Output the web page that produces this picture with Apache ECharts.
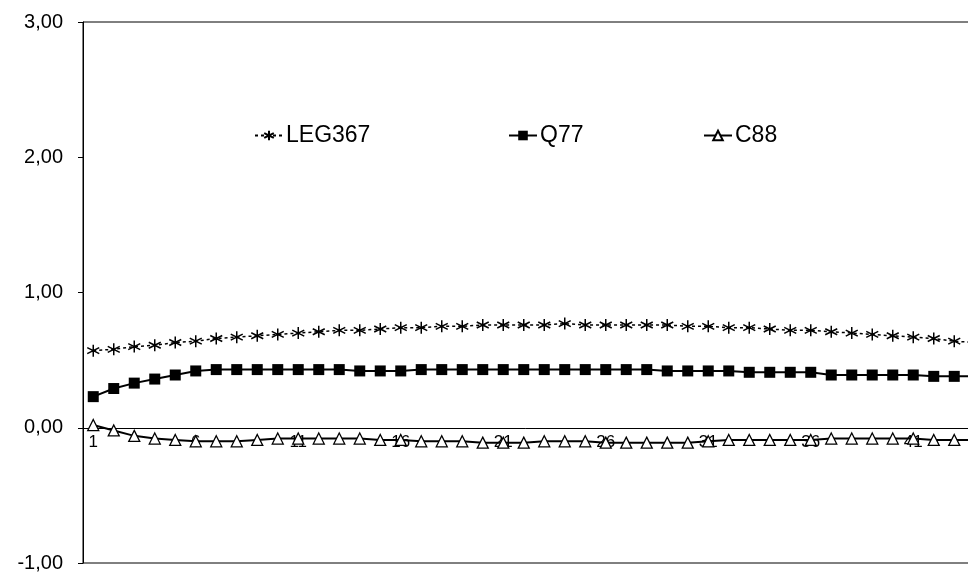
<!DOCTYPE html>
<html>
<head>
<meta charset="utf-8">
<script src="https://cdn.jsdelivr.net/npm/echarts@6/dist/echarts.min.js"></script>
<style>html,body{margin:0;padding:0;background:#fff}#c{width:968px;height:577px}</style>
</head>
<body>
<div id="c"></div>
<script>
const categories = Array.from({length: 44}, (_, i) => String(i + 1));
const seriesNames = ['LEG367', 'Q77', 'C88'];
const leg367 = [0.57,0.58,0.60,0.61,0.63,0.64,0.66,0.67,0.68,0.69,0.70,0.71,0.72,0.72,0.73,0.74,0.74,0.75,0.75,0.76,0.76,0.76,0.76,0.77,0.76,0.76,0.76,0.76,0.76,0.75,0.75,0.74,0.74,0.73,0.72,0.72,0.71,0.70,0.69,0.68,0.67,0.66,0.64,0.63];
const q77 = [0.23,0.29,0.33,0.36,0.39,0.42,0.43,0.43,0.43,0.43,0.43,0.43,0.43,0.42,0.42,0.42,0.43,0.43,0.43,0.43,0.43,0.43,0.43,0.43,0.43,0.43,0.43,0.43,0.42,0.42,0.42,0.42,0.41,0.41,0.41,0.41,0.39,0.39,0.39,0.39,0.39,0.38,0.38,0.38];
const c88 = [0.02,-0.02,-0.06,-0.08,-0.09,-0.10,-0.10,-0.10,-0.09,-0.08,-0.08,-0.08,-0.08,-0.08,-0.09,-0.09,-0.10,-0.10,-0.10,-0.11,-0.11,-0.11,-0.10,-0.10,-0.10,-0.11,-0.11,-0.11,-0.11,-0.11,-0.10,-0.09,-0.09,-0.09,-0.09,-0.09,-0.08,-0.08,-0.08,-0.08,-0.08,-0.09,-0.09,-0.09];
const yTicks = [-1, 0, 1, 2, 3];

const gridTop = 22, gridHeight = 541;
const yMin = yTicks[0], yMax = yTicks[yTicks.length - 1];
// distance from grid bottom to the zero line, so the category axis sits on y = 0
const zeroOffset = gridHeight * (0 - yMin) / (yMax - yMin);

const starPath = 'path://M0,-6 L0,6 M-5.2,-3 L5.2,3 M-5.2,3 L5.2,-3';
const chart = echarts.init(document.getElementById('c'), null, {renderer: 'canvas'});
const font = 'Liberation Sans, Arial, sans-serif';
const legendBase = {
  top: 124, padding: 0, itemWidth: 28, itemHeight: 12, itemGap: 10,
  textStyle: {fontSize: 23, color: '#000', fontFamily: font, padding: [0, 0, 0, -2]}
};
chart.setOption({
  animation: false,
  backgroundColor: '#fff',
  textStyle: {fontFamily: font},
  legend: [
    Object.assign({left: 254, data: [seriesNames[0]]}, legendBase),
    Object.assign({left: 508, data: [seriesNames[1]]}, legendBase),
    Object.assign({left: 703, data: [seriesNames[2]]}, legendBase)
  ],
  grid: {
    left: 83, top: gridTop, width: 44 * 20.5, height: gridHeight,
    outerBoundsMode: 'none', containLabel: false,
    show: true, borderColor: '#000', borderWidth: 1
  },
  xAxis: {
    type: 'category', data: categories, boundaryGap: true,
    position: 'bottom', offset: -zeroOffset,
    axisLine: {onZero: false, lineStyle: {color: '#000', width: 1}},
    axisTick: {show: false},
    axisLabel: {interval: 4, color: '#000', fontSize: 17, margin: 6, fontFamily: font},
    splitLine: {show: false}
  },
  yAxis: {
    type: 'value', min: yMin, max: yMax, interval: 1,
    axisLine: {show: true, lineStyle: {color: '#000', width: 1}},
    axisTick: {show: true, inside: false, length: 5, lineStyle: {color: '#000'}},
    axisLabel: {color: '#000', fontSize: 20, margin: 20, fontFamily: font,
      formatter: v => v.toFixed(2).replace('.', ',')},
    splitLine: {show: false}
  },
  series: [
    {name: seriesNames[0], type: 'line', data: leg367, symbol: starPath, symbolSize: 12,
      itemStyle: {color: 'none', borderColor: '#000', borderWidth: 1.5},
      lineStyle: {color: '#000', width: 1.5, type: [3, 3]}},
    {name: seriesNames[1], type: 'line', data: q77, symbol: 'rect', symbolSize: 11,
      itemStyle: {color: '#000', borderColor: '#000', borderWidth: 0},
      lineStyle: {color: '#000', width: 2}},
    {name: seriesNames[2], type: 'line', data: c88, symbol: 'triangle', symbolSize: 11,
      itemStyle: {color: '#fff', borderColor: '#000', borderWidth: 1.3},
      lineStyle: {color: '#000', width: 2}}
  ]
});
</script>
</body>
</html>
